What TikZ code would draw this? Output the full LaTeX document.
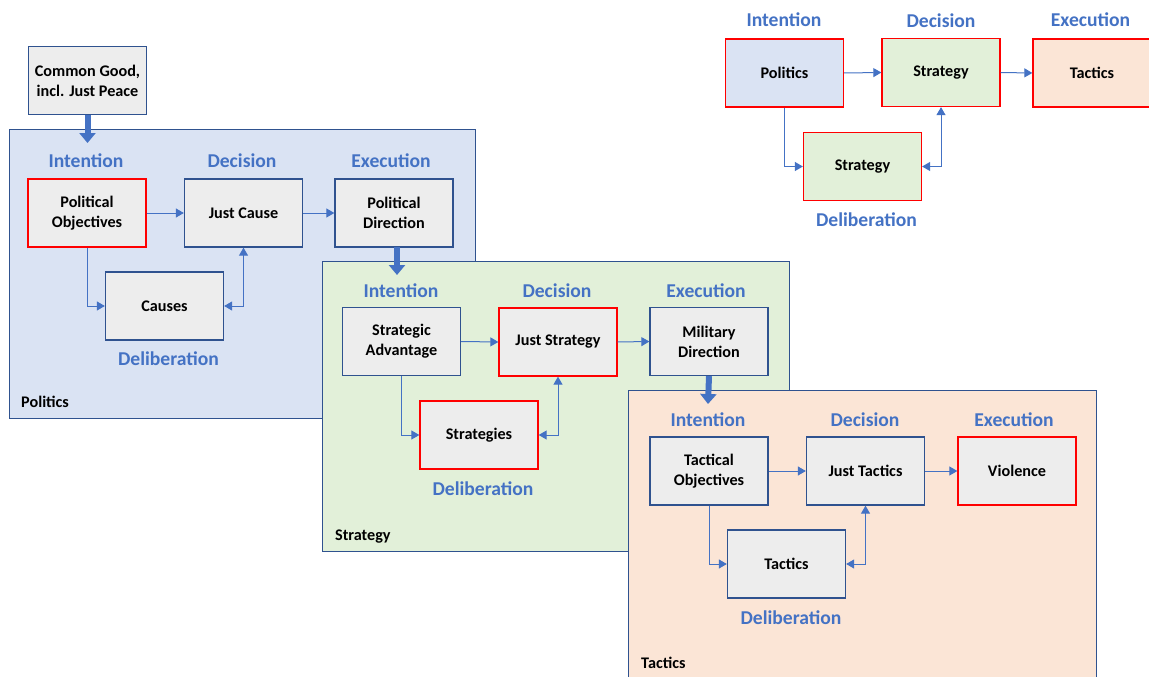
\documentclass[tikz,border=0pt]{standalone}
\usepackage{fontspec}
\setmainfont{Carlito}
\usetikzlibrary{arrows.meta}
\definecolor{polfill}{HTML}{DAE3F3}
\definecolor{strfill}{HTML}{E2F0D9}
\definecolor{tacfill}{HTML}{FBE5D6}
\definecolor{boxfill}{HTML}{EDEDED}
\definecolor{boxborder}{HTML}{2F528F}
\definecolor{stageblue}{HTML}{4472C4}
\definecolor{connblue}{HTML}{4472C4}
\definecolor{redline}{HTML}{FF0000}
\begin{document}
\begin{tikzpicture}[x=1pt,y=-1pt,
  box/.style={draw=boxborder, line width=1.3pt, fill=boxfill, minimum width=118pt, minimum height=68pt,
    font=\fontsize{16.2}{20}\selectfont\bfseries, align=center, inner sep=0pt},
  redbox/.style={box, draw=redline},
  panel/.style={draw=boxborder, line width=1.2pt, anchor=north west, inner sep=0pt},
  stage/.style={text=stageblue, font=\fontsize{19.6}{22}\selectfont\bfseries, anchor=base, inner sep=0pt},
  plabel/.style={font=\fontsize{16.2}{19}\selectfont\bfseries, anchor=base west, inner sep=0pt},
  conn/.style={draw=connblue, line width=1pt, -{Triangle[length=8pt,width=9pt]}},
  connboth/.style={draw=connblue, line width=1pt, {Triangle[length=8pt,width=9pt]}-{Triangle[length=8pt,width=9pt]}},
  bigarrow/.style={draw=connblue, line width=6pt, -{Triangle[length=10pt,width=16pt]}}]
\useasboundingbox (0,0) rectangle (1149,677);
\fill[white] (0,0) rectangle (1149,677);

% ---------- Politics panel ----------
\node[panel, fill=polfill, minimum width=466pt, minimum height=289pt] (polpanel) at (9,129) {};
\node[box] (cg) at (87.5,80.5) {Common Good,\\incl. Just Peace};
\coordinate (cgend) at (87.5,143);
\draw[bigarrow] (cg.south) -- (cgend);
\node[stage] (p1i) at (86,167) {Intention};
\node[stage] (p1d) at (242,167) {Decision};
\node[stage] (p1e) at (391,167) {Execution};
\node[stage] (p1del) at (168.5,365) {Deliberation};
\node[redbox] (po) at (87,213) {Political\\Objectives};
\node[box] (jc) at (243.5,213) {Just Cause};
\node[box] (pd) at (394,213) {Political\\Direction};
\node[box] (causes) at (164.5,306) {Causes};
\node[plabel] (p1lab) at (21,407) {Politics};
\draw[conn] (po.east) -- (jc.west);
\draw[conn] (jc.east) -- (pd.west);
\draw[conn] (po.south) |- (causes.west);
\draw[connboth] (causes.east) -| (jc.south);

% ---------- Strategy panel ----------
\node[panel, fill=strfill, minimum width=467pt, minimum height=290pt] (strpanel) at (322,261) {};
\coordinate (pdstart) at (397,247);
\coordinate (pdend) at (397,275);
\draw[bigarrow] (pdstart) -- (pdend);
\node[stage] (p2i) at (401,297) {Intention};
\node[stage] (p2d) at (557,297) {Decision};
\node[stage] (p2e) at (706,297) {Execution};
\node[stage] (p2del) at (483,495) {Deliberation};
\node[box] (sa) at (401.5,341.5) {Strategic\\Advantage};
\node[redbox] (js) at (558,342) {Just Strategy};
\node[box] (md) at (709,341.5) {Military\\Direction};
\node[redbox] (sts) at (479,435) {Strategies};
\node[plabel] (p2lab) at (335,540) {Strategy};
\draw[conn] (sa.east) -- (js.west);
\draw[conn] (js.east) -- (md.west);
\draw[conn] (sa.south) |- (sts.west);
\draw[connboth] (sts.east) -| (js.south);

% ---------- Tactics panel ----------
\node[panel, fill=tacfill, minimum width=468pt, minimum height=292pt] (tacpanel) at (628,390) {};
\coordinate (mdend) at (708,404);
\draw[bigarrow] (md.south) -- (mdend);
\node[stage] (p3i) at (708,426) {Intention};
\node[stage] (p3d) at (865,426) {Decision};
\node[stage] (p3e) at (1014,426) {Execution};
\node[stage] (p3del) at (791,624) {Deliberation};
\node[box] (to) at (709,471) {Tactical\\Objectives};
\node[box] (jt) at (865.5,471) {Just Tactics};
\node[redbox] (vio) at (1017,471) {Violence};
\node[box] (tac) at (786.5,564) {Tactics};
\node[plabel] (p3lab) at (641,668) {Tactics};
\draw[conn] (to.east) -- (jt.west);
\draw[conn] (jt.east) -- (vio.west);
\draw[conn] (to.south) |- (tac.west);
\draw[connboth] (tac.east) -| (jt.south);

% ---------- Top-right summary ----------
\node[stage] (ti) at (784,27) {Intention};
\node[stage] (td) at (941,28) {Decision};
\node[stage] (te) at (1090.5,27) {Execution};
\node[stage] (tdel) at (866.5,226) {Deliberation};
\node[redbox, fill=polfill] (trpol) at (784.5,73) {Politics};
\node[redbox, fill=strfill] (trstr) at (941,72.5) {Strategy};
\node[redbox, fill=tacfill] (trtac) at (1092,73) {Tactics};
\node[redbox, fill=strfill] (trdel) at (862.5,166.5) {Strategy};
\draw[conn] (trpol.east) -- (trstr.west);
\draw[conn] (trstr.east) -- (trtac.west);
\draw[conn] (trpol.south) |- (trdel.west);
\draw[connboth] (trdel.east) -| (trstr.south);
\end{tikzpicture}
\end{document}
